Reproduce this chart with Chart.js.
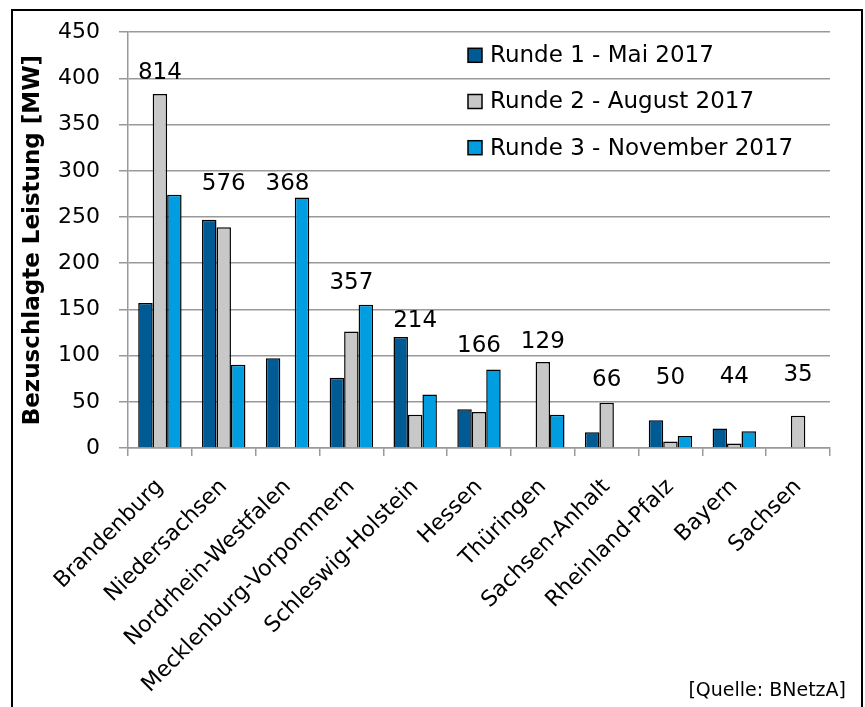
<!DOCTYPE html>
<html>
<head>
<meta charset="utf-8">
<script src="https://cdn.jsdelivr.net/npm/chart.js@4"></script>
<style>
  html, body { margin: 0; padding: 0; background: #fff; overflow: hidden; }
  #wrap { position: relative; width: 865px; height: 707px; overflow: hidden; }
  #frame { position: absolute; left: 11px; top: 9px; width: 848px; height: 720px; border: 2px solid #000; pointer-events: none; }
</style>
</head>
<body>
<div id="wrap">
  <canvas id="chart" width="865" height="707"></canvas>
  <div id="frame"></div>
</div>
<script>
// Bundesländer, Zuschläge je Runde (MW)
const states = ['Brandenburg', 'Niedersachsen', 'Nordrhein-Westfalen', 'Mecklenburg-Vorpommern', 'Schleswig-Holstein',
  'Hessen', 'Thüringen', 'Sachsen-Anhalt', 'Rheinland-Pfalz', 'Bayern', 'Sachsen'];
const runde1 = [157, 247, 97, 76, 120, 42, null, 17, 30, 21, null];
const runde2 = [383, 239, null, 126, 36, 39, 93, 49, 7, 5, 35];
const runde3 = [274, 90, 271, 155, 58, 85, 36, null, 13, 18, null];
const seriesNames = ['Runde 1 - Mai 2017', 'Runde 2 - August 2017', 'Runde 3 - November 2017'];
// height (in MW) where the sum label sits
const sumLabelLevel = [406, 286, 286, 179, 137, 110, 115, 74, 76, 77, 79];
const yTicks = {min: 0, max: 450, step: 50};

const FONT = 'DejaVu Sans';
const colors = ['#005a94', '#c8c8c8', '#009ee0'];
const totals = states.map((s, i) => (runde1[i] || 0) + (runde2[i] || 0) + (runde3[i] || 0));

// ---- extra drawing: sums above groups, legend inside plot, source note ----
const extras = {
  id: 'extras',
  afterDraw(chart) {
    const ctx = chart.ctx;
    const x = chart.scales.x, y = chart.scales.y;
    const area = chart.chartArea;
    ctx.save();
    ctx.fillStyle = '#000';
    ctx.textAlign = 'center';
    ctx.textBaseline = 'middle';
    ctx.font = `23px "${FONT}"`;
    totals.forEach((t, i) => {
      ctx.fillText(String(t), x.getPixelForValue(i), y.getPixelForValue(sumLabelLevel[i]));
    });

    // legend
    const lx = area.right - 362;
    ctx.font = `23px "${FONT}"`;
    ctx.textAlign = 'left';
    chart.data.datasets.forEach((ds, i) => {
      const cy = y.getPixelForValue(425 - i * 50);
      ctx.fillStyle = ds.backgroundColor;
      ctx.fillRect(lx, cy - 7, 14, 14);
      ctx.strokeStyle = '#000';
      ctx.lineWidth = 1.5;
      ctx.strokeRect(lx, cy - 7, 14, 14);
      ctx.fillStyle = '#000';
      ctx.fillText(ds.label, lx + 22, cy + 1);
    });

    // source
    ctx.font = `19px "${FONT}"`;
    ctx.textAlign = 'right';
    ctx.fillText('[Quelle: BNetzA]', 846, 691);
    ctx.restore();
  }
};

const mkSet = (label, data, color) => ({
  label, data,
  backgroundColor: color,
  borderColor: '#000',
  borderWidth: 1.5,
  borderSkipped: 'bottom',
  categoryPercentage: 0.68,
  barPercentage: 1.0
});

new Chart(document.getElementById('chart').getContext('2d'), {
  type: 'bar',
  data: {
    labels: states,
    datasets: [
      mkSet(seriesNames[0], runde1, colors[0]),
      mkSet(seriesNames[1], runde2, colors[1]),
      mkSet(seriesNames[2], runde3, colors[2])
    ]
  },
  options: {
    responsive: false,
    animation: false,
    layout: {padding: {top: 31, right: 35, left: 0, bottom: 0}},
    scales: {
      x: {
        grid: {drawOnChartArea: false, drawTicks: true, tickLength: 8, color: '#999', lineWidth: 1.5, offset: true},
        border: {color: '#999', width: 1.5},
        ticks: {autoSkip: false, maxRotation: 45, minRotation: 45, padding: 18, color: '#000', font: {family: FONT, size: 22}},
        afterFit: s => { s.height = 259; }
      },
      y: {
        min: yTicks.min, max: yTicks.max,
        grid: {color: '#999', lineWidth: 1.5, tickLength: 9},
        border: {color: '#999', width: 1.5},
        ticks: {stepSize: yTicks.step, padding: 19, color: '#000', font: {family: FONT, size: 22}},
        title: {display: true, text: 'Bezuschlagte Leistung [MW]', color: '#000', padding: {top: 19}, font: {family: FONT, size: 23, weight: 'bold'}},
        afterFit: s => { s.width = 128; }
      }
    },
    plugins: {
      legend: {display: false},
      tooltip: {enabled: false}
    }
  },
  plugins: [extras]
});
</script>
</body>
</html>
